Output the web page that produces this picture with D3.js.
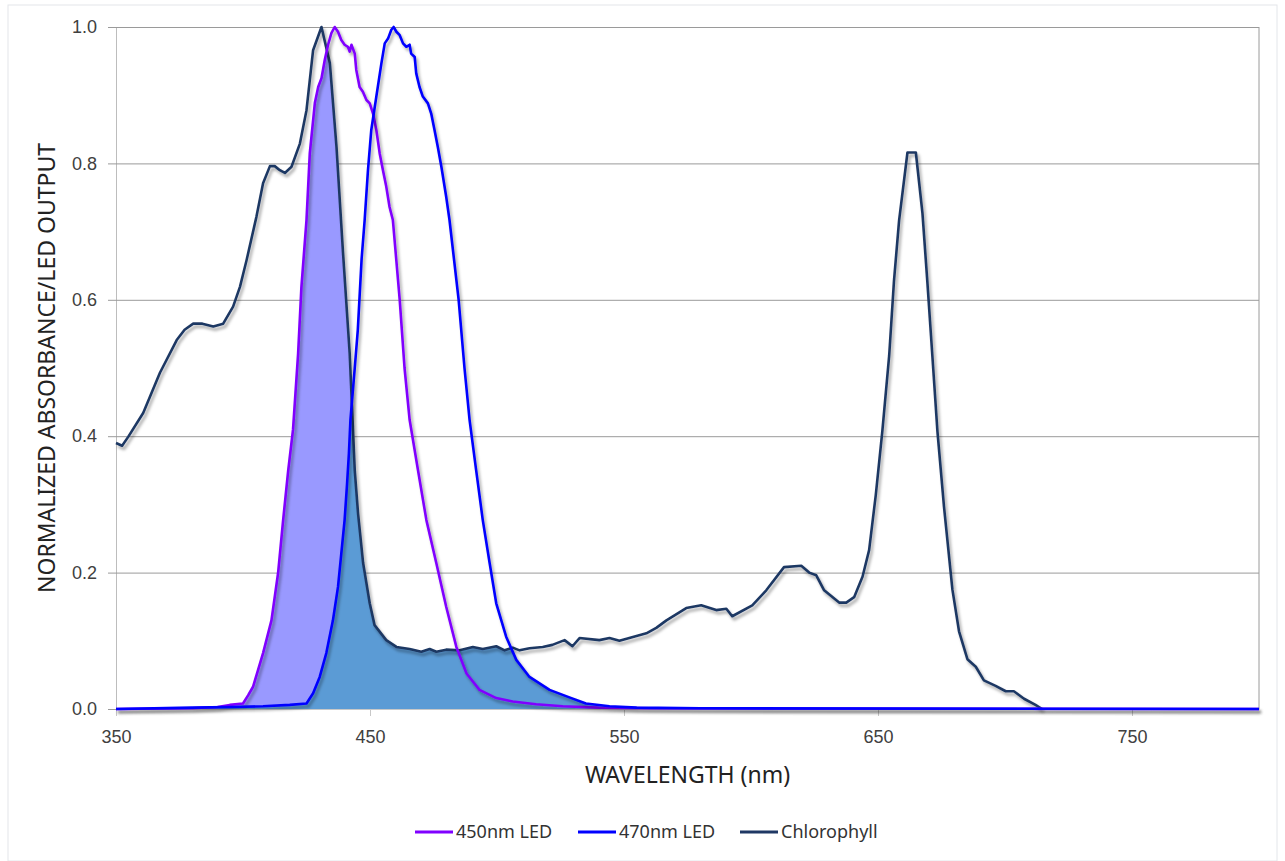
<!DOCTYPE html>
<html>
<head>
<meta charset="utf-8">
<title>Chlorophyll absorbance vs LED output</title>
<script src="https://cdn.jsdelivr.net/npm/d3@7"></script>
<style>
    html, body { margin: 0; padding: 0; background: #fff; }
    #chartWrap { width: 1285px; height: 861px; }
    .chart-container { font-family: "Noto Sans", "Open Sans", sans-serif; }
    .axis text { fill: #404040; font-size: 18px; }
    .axis-title { fill: #222; font-size: 23px; }
    .legend text { fill: #333; font-size: 18px; }
</style>
</head>
<body>
<div id="chartWrap"></div>
<script>
'use strict'

// wavelength (nm) / normalized value pairs
const chlorophyll = [
    [350,0.39],[352.4,0.386],[354.8,0.399],[360.7,0.434],[367.3,0.493],[373.9,0.541],[377,0.556],
    [380.4,0.565],[384,0.565],[388.3,0.561],[392.2,0.565],[396.1,0.59],[398.8,0.619],[401.4,0.658],
    [405.3,0.722],[407.9,0.771],[410.6,0.796],[412.5,0.796],[414.5,0.79],[416.5,0.786],[419.1,0.795],
    [422.4,0.829],[425,0.878],[427.6,0.966],[430.9,1.0],[434.2,0.947],[436.8,0.825],[439.4,0.668],
    [442,0.522],[444,0.35],[445.3,0.287],[447.3,0.214],[449.9,0.155],[451.8,0.123],[456.4,0.101],
    [460.4,0.091],[465.6,0.088],[470.2,0.084],[473.5,0.088],[476.1,0.084],[480,0.087],[485.3,0.086],
    [490.5,0.091],[494.4,0.088],[499.7,0.092],[503,0.086],[506.2,0.09],[508.9,0.086],[512.8,0.089],
    [518,0.091],[521.8,0.094],[526.6,0.101],[529.7,0.092],[532.5,0.104],[540.3,0.101],[544.3,0.104],
    [548.2,0.1],[558.8,0.111],[562.7,0.119],[566.7,0.13],[574.5,0.148],[580.4,0.152],[586.3,0.145],
    [590.3,0.147],[592.6,0.136],[600.5,0.152],[606,0.174],[613,0.208],[619.8,0.21],[622.9,0.2],
    [625.7,0.196],[628.8,0.174],[634.7,0.156],[637.5,0.156],[640.6,0.164],[643.9,0.194],[646.5,0.233],
    [649.1,0.313],[651.7,0.407],[654.4,0.518],[656.3,0.628],[658.3,0.716],[661.6,0.816],[664.9,0.816],
    [667.5,0.727],[669.4,0.628],[671.4,0.518],[673.4,0.407],[676,0.296],[679.3,0.175],[681.9,0.114],
    [685.2,0.073],[688.5,0.062],[691.7,0.042],[696.3,0.034],[700.3,0.026],[703.5,0.026],[707.5,0.015],
    [712,0.006],[714.6,0]
];

const led450 = [
    [350,0],[380,0.001],[390,0.003],[394.8,0.006],[400,0.008],[402,0.02],[404,0.033],[407.9,0.082],
    [411.2,0.13],[413.8,0.199],[415.8,0.277],[417.8,0.35],[419.7,0.41],[421.7,0.521],[423,0.619],
    [425,0.717],[426.3,0.815],[428.3,0.889],[429.6,0.912],[430.9,0.925],[432.2,0.952],[433.5,0.974],
    [434.8,0.991],[436.1,1.0],[437.4,0.993],[438.7,0.981],[440,0.974],[441.3,0.971],[442,0.964],
    [442.7,0.974],[444,0.961],[444.6,0.937],[445.9,0.912],[447.2,0.905],[448.6,0.893],[449.9,0.888],
    [451.2,0.873],[452.5,0.849],[453.8,0.815],[455.1,0.79],[456.4,0.766],[457.7,0.736],[459,0.717],
    [461.7,0.6],[463.6,0.5],[465.6,0.424],[468.9,0.35],[472.2,0.277],[476.1,0.214],[480,0.15],
    [484,0.091],[488,0.052],[493.1,0.028],[499.7,0.016],[506.2,0.011],[515.4,0.007],[525.9,0.004],
    [540,0.002],[560,0.001],[800,0]
];

const led470 = [
    [350,0],[380,0.002],[394.8,0.003],[407.9,0.004],[418.4,0.006],[425,0.008],[427.6,0.023],
    [430.2,0.047],[432.8,0.082],[435.4,0.13],[437.4,0.179],[438.7,0.228],[440,0.277],[440.9,0.326],
    [441.7,0.375],[442.3,0.424],[444,0.5],[445.2,0.556],[446.7,0.66],[447.9,0.717],[449.2,0.79],
    [450.5,0.849],[452.5,0.898],[454.5,0.947],[455.8,0.976],[457.1,0.983],[458.4,0.996],[459.3,1.0],
    [460.4,0.993],[461.7,0.988],[463,0.976],[464.3,0.971],[465.6,0.974],[466.2,0.961],[467.6,0.956],
    [468.2,0.932],[469.5,0.912],[470.8,0.898],[472.8,0.888],[474.1,0.873],[475.4,0.849],[476.7,0.824],
    [478.1,0.795],[480,0.751],[481.3,0.717],[484.9,0.6],[487.2,0.5],[489.2,0.424],[491.8,0.35],
    [494.4,0.277],[497.1,0.214],[499.7,0.155],[503.6,0.106],[507.6,0.072],[512.8,0.047],[520.7,0.028],
    [528.5,0.017],[535,0.008],[544.3,0.004],[555,0.002],[580,0.001],[800,0]
];

const seriesNames = ['450nm LED', '470nm LED', 'Chlorophyll'];
const xTicks = [350, 450, 550, 650, 750];
const yTicks = [0, 0.2, 0.4, 0.6, 0.8, 1.0];

window.addEventListener('DOMContentLoaded', function(event) {
    //#region settings
    const svgWidth = 1285,
        svgHeight = 861,
        margin = { top: 27, right: 26, bottom: 152, left: 116 },
        chartWidth = svgWidth - margin.left - margin.right,
        chartHeight = svgHeight - margin.top - margin.bottom;

    const lineColor = d3.scaleOrdinal(seriesNames, ['#8000ff', '#0000ff', '#1f3864']);
    const fillPurple = '#9999ff',
        fillBlue = '#5b9bd5';
    //#endregion settings

    //#region svg + scales
    const svg = d3.select('#chartWrap')
        .append('svg')
        .attr('width', svgWidth)
        .attr('height', svgHeight)
        .attr('class', 'chart-container');

    // faint outer frame like the original picture
    svg.append('rect')
        .attr('x', 8).attr('y', 5)
        .attr('width', svgWidth - 16).attr('height', svgHeight - 5)
        .attr('fill', '#fff')
        .attr('stroke', '#e3e6ea');

    const defs = svg.append('defs');
    defs.append('filter')
        .attr('id', 'shadow')
        .attr('x', '-5%').attr('y', '-5%')
        .attr('width', '110%').attr('height', '110%')
        .append('feDropShadow')
        .attr('dx', 2).attr('dy', 3)
        .attr('stdDeviation', 1.6)
        .attr('flood-color', '#000')
        .attr('flood-opacity', 0.35);

    const chart = svg.append('g')
        .attr('class', 'chart')
        .attr('transform', `translate(${margin.left},${margin.top})`);

    const xScale = d3.scaleLinear()
        .domain([350, 800])
        .range([0, chartWidth]);

    const yScale = d3.scaleLinear()
        .domain([0, 1])
        .range([chartHeight, 0]);
    //#endregion svg + scales

    //#region axes + grid
    const yAxis = chart.append('g')
        .attr('class', 'axis axis-y')
        .call(d3.axisLeft(yScale).tickValues(yTicks).tickFormat(d3.format('.1f')).tickSize(8).tickPadding(11));
    yAxis.select('.domain').attr('stroke', '#bdbdbd');
    yAxis.selectAll('.tick line').attr('stroke', '#9a9a9a');
    yAxis.selectAll('.tick')
        .filter(d => d > 0)
        .append('line')
        .attr('x2', chartWidth)
        .attr('stroke', '#9a9a9a');

    const xAxis = chart.append('g')
        .attr('class', 'axis axis-x')
        .attr('transform', `translate(0,${chartHeight})`)
        .call(d3.axisBottom(xScale).tickValues(xTicks).tickSize(7).tickPadding(14).tickSizeOuter(0));
    xAxis.select('.domain').attr('stroke', '#c8c8c8');
    xAxis.selectAll('.tick line').attr('stroke', '#c8c8c8');

    // right border of the plot
    chart.append('line')
        .attr('x1', chartWidth).attr('x2', chartWidth)
        .attr('y1', 0).attr('y2', chartHeight)
        .attr('stroke', '#9a9a9a');

    chart.append('text')
        .attr('class', 'axis-title')
        .attr('x', xScale(575))
        .attr('y', chartHeight + 74)
        .attr('text-anchor', 'middle')
        .text('WAVELENGTH (nm)');

    chart.append('text')
        .attr('class', 'axis-title')
        .attr('transform', `translate(${-61},${yScale(0.5)}) rotate(-90)`)
        .attr('text-anchor', 'middle')
        .text('NORMALIZED ABSORBANCE/LED OUTPUT');
    //#endregion axes + grid

    //#region overlap fills
    const area = d3.area()
        .x(d => xScale(d[0]))
        .y0(yScale(0))
        .y1(d => yScale(d[1]));

    // overlap = area under an LED clipped by the area under chlorophyll
    defs.append('clipPath')
        .attr('id', 'underChl')
        .append('path')
        .attr('d', area(chlorophyll));

    const fills = chart.append('g')
        .attr('class', 'fills')
        .attr('clip-path', 'url(#underChl)');

    fills.append('path')
        .attr('d', area(led450))
        .attr('fill', fillPurple);

    fills.append('path')
        .attr('d', area(led470))
        .attr('fill', fillBlue);
    //#endregion overlap fills

    //#region lines
    const line = d3.line()
        .x(d => xScale(d[0]))
        .y(d => yScale(d[1]));

    const lineData = [
        { name: 'Chlorophyll', values: chlorophyll },
        { name: '450nm LED', values: led450 },
        { name: '470nm LED', values: led470 }
    ];

    chart.append('g')
        .attr('class', 'lines')
        .selectAll('path')
        .data(lineData)
        .join('path')
            .attr('d', d => line(d.values))
            .attr('fill', 'none')
            .attr('stroke', d => lineColor(d.name))
            .attr('stroke-width', 2.6)
            .attr('stroke-linejoin', 'round')
            .attr('filter', 'url(#shadow)');
    //#endregion lines

    //#region legend
    const legend = svg.append('g')
        .attr('class', 'legend')
        .attr('transform', 'translate(415, 832)');

    const legendX = [0, 163, 325];

    const items = legend.selectAll('g')
        .data(seriesNames)
        .join('g')
            .attr('transform', (d, i) => `translate(${legendX[i]},0)`);

    items.append('line')
        .attr('x1', 0).attr('x2', 38)
        .attr('stroke', d => lineColor(d))
        .attr('stroke-width', 3);

    items.append('text')
        .attr('x', 41)
        .attr('dy', '0.35em')
        .text(d => d);
    //#endregion legend
});
</script>
</body>
</html>
